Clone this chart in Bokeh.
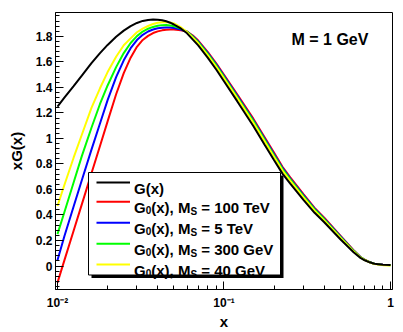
from bokeh.plotting import figure
from bokeh.models import Range1d, FixedTicker, Label, BoxAnnotation, Arrow
from bokeh.embed import file_html
from bokeh.resources import INLINE

# ---------------- data ----------------
x_vals = [0.01, 0.011, 0.0125, 0.014, 0.016, 0.018, 0.02, 0.0225, 0.025, 0.0275,
          0.03, 0.0325, 0.035, 0.0375, 0.04, 0.0425, 0.045, 0.0475, 0.05, 0.055,
          0.06, 0.065, 0.07, 0.08, 0.09, 0.1, 0.12, 0.15, 0.175, 0.2,
          0.225, 0.25, 0.3, 0.35, 0.4, 0.5, 0.6, 0.66, 0.7, 0.75,
          0.8, 0.9, 1.0]

g_full = [1.25, 1.32, 1.41, 1.492, 1.59, 1.669, 1.733, 1.797, 1.845, 1.88,
          1.905, 1.921, 1.929, 1.932, 1.931, 1.926, 1.918, 1.907, 1.893, 1.862,
          1.824, 1.774, 1.729, 1.631, 1.538, 1.448, 1.292, 1.098, 0.953, 0.829,
          0.722, 0.646, 0.519, 0.417, 0.343, 0.21, 0.108, 0.064, 0.045, 0.029,
          0.018, 0.01, 0.008]
g0_100tev = [-0.13, 0.044, 0.277, 0.483, 0.727, 0.941, 1.134, 1.346, 1.512, 1.633,
             1.718, 1.772, 1.804, 1.826, 1.839, 1.847, 1.851, 1.853, 1.853, 1.848,
             1.838, 1.807, 1.767, 1.676, 1.586, 1.499, 1.345, 1.155, 1.011, 0.887,
             0.776, 0.695, 0.563, 0.456, 0.378, 0.238, 0.124, 0.071, 0.049, 0.03,
             0.018, 0.01, 0.008]
g0_5tev = [0.045, 0.233, 0.466, 0.672, 0.912, 1.117, 1.30, 1.48, 1.612, 1.707,
           1.771, 1.812, 1.838, 1.854, 1.863, 1.868, 1.87, 1.869, 1.865, 1.853,
           1.836, 1.801, 1.760, 1.668, 1.578, 1.490, 1.336, 1.145, 1.001, 0.876,
           0.767, 0.686, 0.555, 0.449, 0.371, 0.233, 0.121, 0.070, 0.048, 0.030,
           0.018, 0.01, 0.008]
g0_300gev = [0.25, 0.422, 0.655, 0.861, 1.084, 1.27, 1.415, 1.559, 1.669, 1.748,
             1.802, 1.838, 1.86, 1.874, 1.883, 1.888, 1.889, 1.886, 1.88, 1.862,
             1.836, 1.796, 1.754, 1.661, 1.570, 1.482, 1.327, 1.136, 0.992, 0.867,
             0.758, 0.679, 0.548, 0.443, 0.366, 0.228, 0.119, 0.069, 0.048, 0.030,
             0.018, 0.009, 0.007]
g0_40gev = [0.47, 0.635, 0.849, 1.029, 1.239, 1.393, 1.52, 1.64, 1.73, 1.784,
            1.832, 1.861, 1.881, 1.897, 1.906, 1.911, 1.912, 1.909, 1.901, 1.872,
            1.833, 1.789, 1.746, 1.651, 1.559, 1.471, 1.316, 1.123, 0.979, 0.855,
            0.746, 0.668, 0.538, 0.434, 0.358, 0.222, 0.115, 0.067, 0.047, 0.029,
            0.016, 0.007, 0.005]

series = [g_full, g0_100tev, g0_5tev, g0_300gev, g0_40gev]
series_colors = ["#000000", "#ff0000", "#0000ff", "#00ff00", "#ffff00"]
ms_values = ["100 TeV", "5 TeV", "300 GeV", "40 GeV"]
# legend text pieces: (text, is_subscript)
legend_texts = [[("G(x)", False)]] + [
    [("G", False), ("0", True), ("(x), M", False), ("S", True), (" = " + m, False)]
    for m in ms_values]

x_ticks = [0.01, 0.1, 1.0]
x_tick_labels = ["10\u207b\u00b2", "10\u207b\u00b9", "1"]
x_minor = [0.02, 0.03, 0.04, 0.05, 0.06, 0.07, 0.08, 0.09,
           0.2, 0.3, 0.4, 0.5, 0.6, 0.7, 0.8, 0.9]
y_ticks = [0.0, 0.2, 0.4, 0.6, 0.8, 1.0, 1.2, 1.4, 1.6, 1.8]
y_tick_labels = ["0", "0.2", "0.4", "0.6", "0.8", "1", "1.2", "1.4", "1.6", "1.8"]
y_minor = [round(-0.16 + 0.04 * i, 2) for i in range(54)]

annotation_text = "M = 1 GeV"

FONT = "Liberation Sans"

# Liberation Sans Bold advance widths (per 1000 em) for laying out the legend text
ADV = {"G": 778, "0": 556, "1": 556, "3": 556, "4": 556, "5": 556, "(": 333, ")": 333,
       "x": 556, ",": 278, " ": 278, "M": 833, "S": 667, "=": 584, "T": 611, "e": 556, "V": 667}
def text_w(s, size):
    return sum(ADV.get(ch, 556) for ch in s) * size / 1000.0

# ---------------- figure ----------------
p = figure(width=403, height=332, x_axis_type="log",
           x_range=Range1d(0.00973, 1.028), y_range=Range1d(-0.184, 1.987),
           output_backend="svg", toolbar_location=None,
           min_border_left=55, min_border_right=11, min_border_top=12, min_border_bottom=40)
p.background_fill_color = "white"
p.border_fill_color = "white"
p.outline_line_color = "black"
p.outline_line_width = 1
p.grid.visible = False

for ax in (p.xaxis[0], p.yaxis[0]):
    ax.major_tick_in = 8
    ax.major_tick_out = 0
    ax.minor_tick_in = 4
    ax.minor_tick_out = 0
    ax.major_tick_line_color = "black"
    ax.minor_tick_line_color = "black"
    ax.axis_line_color = "black"
    ax.major_label_text_font = FONT
    ax.major_label_text_font_style = "bold"
    ax.major_label_text_font_size = "12px"
    ax.major_label_text_color = "black"
    ax.axis_label_text_font = FONT
    ax.axis_label_text_font_style = "bold"
    ax.axis_label_text_font_size = "15px"
    ax.axis_label_text_color = "black"

p.xaxis.ticker = FixedTicker(ticks=x_ticks, minor_ticks=x_minor)
p.xaxis.major_label_overrides = dict(zip(x_ticks, x_tick_labels))
p.xaxis.axis_label = "x"
p.xaxis.major_label_standoff = 6
p.xaxis.axis_label_standoff = 0

p.yaxis.ticker = FixedTicker(ticks=y_ticks, minor_ticks=y_minor)
p.yaxis.major_label_overrides = dict(zip(y_ticks, y_tick_labels))
p.yaxis.axis_label = "xG(x)"
p.yaxis.major_label_standoff = 3
p.yaxis.axis_label_standoff = 8

# coloured curves first, black G(x) on top
for ys, c in list(zip(series, series_colors))[1:] + [(series[0], series_colors[0])]:
    p.line(x_vals, ys, line_color=c, line_width=2)

# ---------------- text annotation ----------------
# screen coords are relative to the frame's bottom-left corner
FL, FB = 55, 292  # frame left/bottom in page pixels
def sx(px):
    return px - FL
def sy(py):
    return FB - py

p.add_layout(Label(x=sx(291), y=sy(41.5), x_units="screen", y_units="screen",
                   text=annotation_text, text_font=FONT, text_font_style="bold",
                   text_font_size="16px", text_color="black", text_baseline="alphabetic"))

# ---------------- legend (drawn by hand, ROOT style with shadow) ----------------
p.add_layout(BoxAnnotation(left=sx(91), right=sx(283), top=sy(178), bottom=sy(280.5),
                           left_units="screen", right_units="screen",
                           top_units="screen", bottom_units="screen",
                           fill_color="black", fill_alpha=1, line_color=None))
p.add_layout(BoxAnnotation(left=sx(88), right=sx(280), top=sy(175), bottom=sy(277.5),
                           left_units="screen", right_units="screen",
                           top_units="screen", bottom_units="screen",
                           fill_color="white", fill_alpha=1,
                           line_color="black", line_width=1, line_alpha=1))
MAIN, SUB = 15.0, 10.0
entry_y = [185, 204.3, 225.3, 246.3, 267.0]
for pieces, c, ey in zip(legend_texts, series_colors, entry_y):
    p.add_layout(Arrow(end=None, x_start=sx(96), y_start=sy(ey), x_end=sx(129.5), y_end=sy(ey),
                       start_units="screen", end_units="screen",
                       line_color=c, line_width=2))
    base = ey + 5.5
    cx = 133.5
    for txt, is_sub in pieces:
        size = SUB if is_sub else MAIN
        drop = (3.0 if txt == "0" else 4.5) if is_sub else 0.0
        lead = len(txt) - len(txt.lstrip(" "))
        cx += text_w(" " * lead, size)
        shown = txt.lstrip(" ")
        p.add_layout(Label(x=sx(cx), y=sy(base + drop), x_units="screen", y_units="screen",
                           text=shown, text_font=FONT, text_font_style="bold",
                           text_font_size=f"{size}px", text_color="black",
                           text_baseline="alphabetic"))
        cx += text_w(shown, size)

open("out.html", "w").write(file_html(p, INLINE))
